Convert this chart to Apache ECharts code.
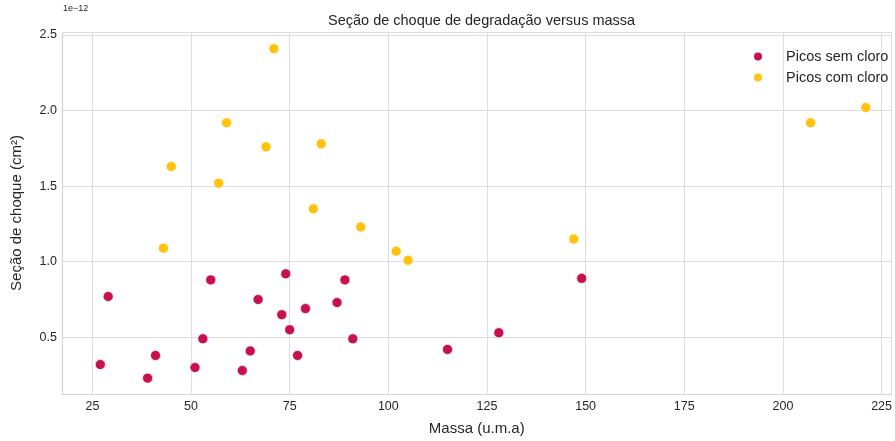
<!DOCTYPE html>
<html>
<head>
<meta charset="utf-8">
<script src="https://cdn.jsdelivr.net/npm/echarts@6/dist/echarts.min.js"></script>
<style>
  html, body { margin: 0; padding: 0; background: #ffffff; }
  #chart { width: 895px; height: 441px; }
</style>
</head>
<body>
<div id="chart"></div>
<script>
// Cross sections are given in units of 1e-12 cm² (shown as the axis offset label).
const massSemCloro = [27, 29, 39, 41, 51, 53, 55, 63, 65, 67, 73, 74, 75, 77, 79, 87, 89, 91, 115, 128, 149];
const secaoSemCloro = [0.32, 0.77, 0.23, 0.38, 0.30, 0.49, 0.88, 0.28, 0.41, 0.75, 0.65, 0.92, 0.55, 0.38, 0.69, 0.73, 0.88, 0.49, 0.42, 0.53, 0.89];

const massComCloro = [43, 45, 57, 59, 69, 71, 81, 83, 93, 102, 105, 147, 207, 221];
const secaoComCloro = [1.09, 1.63, 1.52, 1.92, 1.76, 2.41, 1.35, 1.78, 1.23, 1.07, 1.01, 1.15, 1.92, 2.02];

const seriesNames = ['Picos sem cloro', 'Picos com cloro'];
const seriesColors = ['#C8104A', '#FFC20E'];

const pairs = (xs, ys) => xs.map((x, i) => [x, ys[i]]);

const FONT = '"Liberation Sans", Arial, sans-serif';
const chart = echarts.init(document.getElementById('chart'), null, { renderer: 'canvas' });

chart.setOption({
  animation: false,
  backgroundColor: '#ffffff',
  title: {
    text: 'Seção de choque de degradação versus massa',
    left: 323,
    top: 8,
    textStyle: { fontFamily: FONT, fontSize: 14.5, fontWeight: 'normal', color: '#262626' }
  },
  legend: {
    data: seriesNames,
    orient: 'vertical',
    left: 747,
    top: 43,
    icon: 'circle',
    itemWidth: 10,
    itemHeight: 10,
    itemGap: 4,
    textStyle: { fontFamily: FONT, fontSize: 14.5, color: '#262626', lineHeight: 17, padding: [0, 0, 0, 18] }
  },
  grid: { left: 62, right: 0, top: 32, bottom: 44, show: false, containLabel: false },
  xAxis: {
    type: 'value',
    min: 17.3,
    max: 227.5,
    minInterval: 25,
    maxInterval: 25,
    name: 'Massa (u.m.a)',
    nameLocation: 'middle',
    nameGap: 27,
    nameTextStyle: { fontFamily: FONT, fontSize: 15, color: '#262626' },
    axisLine: { show: true, lineStyle: { color: '#d4d4d4', width: 1.2 } },
    axisTick: { show: false },
    axisLabel: { showMinLabel: false, showMaxLabel: false, margin: 6, fontFamily: FONT, fontSize: 12.5, color: '#262626' },
    splitLine: { show: true, lineStyle: { color: '#dddddd', width: 1 } }
  },
  yAxis: {
    type: 'value',
    min: 0.125,
    max: 2.52,
    minInterval: 0.5,
    maxInterval: 0.5,
    name: 'Seção de choque (cm²)',
    nameLocation: 'middle',
    nameGap: 38,
    nameTextStyle: { fontFamily: FONT, fontSize: 15, color: '#262626' },
    axisLine: { show: true, lineStyle: { color: '#d4d4d4', width: 1.2 } },
    axisTick: { show: false },
    axisLabel: {
      showMinLabel: false, showMaxLabel: false, margin: 5,
      fontFamily: FONT, fontSize: 12.5, color: '#262626',
      formatter: v => v.toFixed(1)
    },
    splitLine: { show: true, lineStyle: { color: '#dddddd', width: 1 } }
  },
  graphic: [{
    type: 'text',
    left: 63,
    top: 4,
    style: { text: '1e\u221212', fontFamily: FONT, fontSize: 9, fill: '#262626' }
  }],
  series: [
    {
      name: seriesNames[0],
      type: 'scatter',
      data: pairs(massSemCloro, secaoSemCloro),
      symbolSize: 10,
      itemStyle: { color: seriesColors[0], borderColor: '#ffffff', borderWidth: 0.6, opacity: 1 }
    },
    {
      name: seriesNames[1],
      type: 'scatter',
      data: pairs(massComCloro, secaoComCloro),
      symbolSize: 10,
      itemStyle: { color: seriesColors[1], borderColor: '#ffffff', borderWidth: 0.6, opacity: 1 }
    }
  ]
});
</script>
</body>
</html>
